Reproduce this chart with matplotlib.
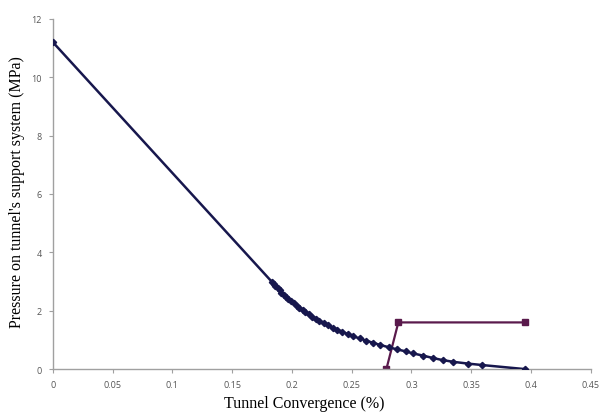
import matplotlib
matplotlib.use("Agg")
import matplotlib.pyplot as plt
import numpy as np

# ground reaction curve: convergence (%) vs pressure (MPa)
grc_conv = [0.0, 0.183, 0.185, 0.186, 0.188, 0.190, 0.191, 0.193, 0.195,
            0.197, 0.199, 0.202, 0.204, 0.206, 0.209, 0.211, 0.214, 0.217,
            0.220, 0.223, 0.227, 0.230, 0.234, 0.238, 0.242, 0.247, 0.251,
            0.257, 0.262, 0.268, 0.274, 0.281, 0.288, 0.295, 0.301, 0.310,
            0.318, 0.326, 0.335, 0.347, 0.359, 0.395]
grc_pres = [11.2, 3.0, 2.925, 2.85, 2.775, 2.7, 2.625, 2.55, 2.475,
            2.4, 2.325, 2.25, 2.175, 2.1, 2.025, 1.95, 1.875, 1.8,
            1.725, 1.65, 1.575, 1.5, 1.425, 1.35, 1.275, 1.2, 1.125,
            1.05, 0.975, 0.9, 0.825, 0.75, 0.675, 0.61, 0.54, 0.46,
            0.38, 0.31, 0.25, 0.19, 0.14, 0.0]

# support characteristic line
sup_conv = [0.279, 0.289, 0.395]
sup_pres = [0.0, 1.6, 1.6]

xticks = [0, 0.05, 0.1, 0.15, 0.2, 0.25, 0.3, 0.35, 0.4, 0.45]
xtick_labels = ["0", "0.05", "0.1", "0.15", "0.2", "0.25", "0.3", "0.35", "0.4", "0.45"]
yticks = [0, 2, 4, 6, 8, 10, 12]

fig = plt.figure(figsize=(6.01, 4.14), dpi=100)
ax = fig.add_axes([0.088, 0.106, 0.895, 0.846])

ax.plot(grc_conv, grc_pres, color="#17174d", lw=1.8, marker="D", ms=3.2,
        markeredgecolor="#17174d", zorder=3)
ax.plot(sup_conv, sup_pres, color="#5a1a4c", lw=1.6, marker="s", ms=5,
        markeredgecolor="#5a1a4c", zorder=2)

ax.set_xlim(0, 0.45)
ax.set_ylim(0, 12)
ax.set_xticks(xticks)
ax.set_xticklabels(xtick_labels)
ax.set_yticks(yticks)

for s in ["top", "right"]:
    ax.spines[s].set_visible(False)
for s in ["left", "bottom"]:
    ax.spines[s].set_color("#a0a0a0")
    ax.spines[s].set_linewidth(1.0)

ax.tick_params(axis="both", colors="#a0a0a0", labelcolor="#555555",
               labelsize=6.5, length=3, width=0.8, pad=5)
for lab in ax.get_xticklabels() + ax.get_yticklabels():
    lab.set_family("Open Sans")

ax.set_xlabel("Tunnel Convergence (%)", family="Liberation Serif", fontsize=11.5)
ax.set_ylabel("Pressure on tunnel's support system (MPa)",
              family="Liberation Serif", fontsize=11.5)
ax.xaxis.label.set_va("center")
ax.yaxis.label.set_va("center")
ax.xaxis.set_label_coords(0.468, -0.098)
ax.yaxis.set_label_coords(-0.066, 0.508)

fig.savefig("out.png", dpi=100)
